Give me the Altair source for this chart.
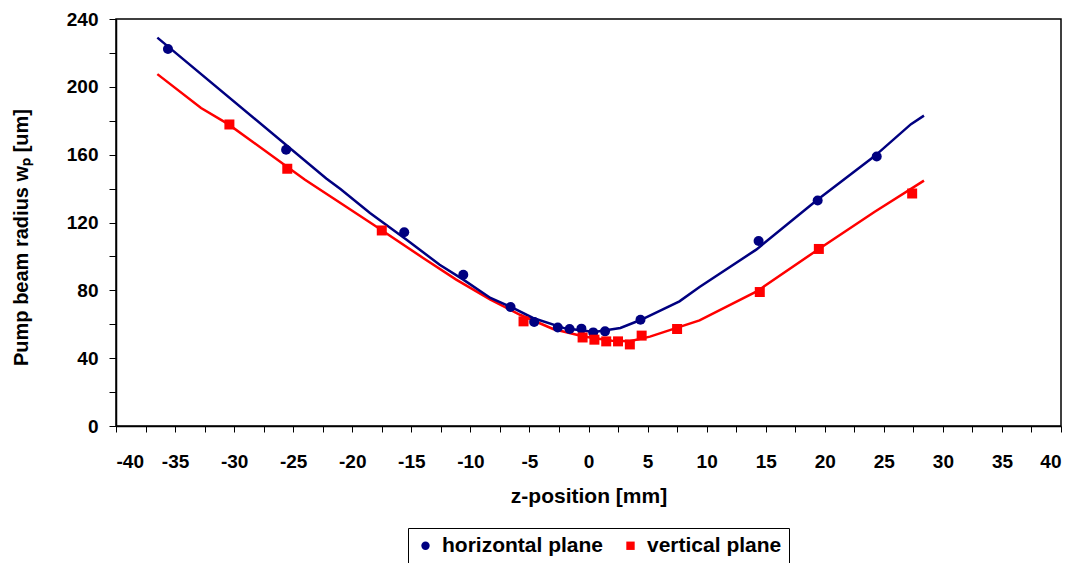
import altair as alt
import pandas as pd

# measured points
h_z = [-35.6, -25.6, -15.6, -10.6, -6.6, -4.6, -2.6, -1.6, -0.6, 0.4, 1.4, 4.4, 14.4, 19.4, 24.4]
h_w = [222.3, 162.9, 114.2, 89.2, 70.2, 61.3, 58.1, 57.2, 57.4, 55.2, 55.8, 62.7, 109.1, 133.0, 158.9]
v_z = [-30.4, -25.5, -17.5, -5.5, -0.5, 0.5, 1.5, 2.5, 3.5, 4.5, 7.5, 14.5, 19.5, 27.4]
v_w = [177.8, 151.7, 115.3, 61.7, 52.2, 50.9, 49.9, 49.9, 48.1, 53.3, 57.2, 79.0, 104.4, 137.1]

# fitted curves
hf_z = [-36.5, -22.2, -21.0, -18.5, -15.4, -12.6, -10.6, -8.3, -6.4, -4.7, -2.0, 0.5, 2.7, 4.4, 7.7, 9.4, 14.2, 19.3, 24.2, 27.3, 28.4]
hf_w = [229.0, 146.0, 139.7, 125.6, 109.8, 95.1, 86.3, 75.5, 69.6, 63.7, 57.6, 55.5, 57.8, 62.5, 73.5, 82.0, 104.0, 133.0, 159.0, 178.0, 183.0]
vf_z = [-36.5, -32.8, -30.5, -24.0, -21.0, -18.2, -14.0, -11.2, -8.3, -5.8, -3.0, -0.4, 2.0, 3.5, 5.2, 9.4, 14.2, 19.5, 24.2, 28.4]
vf_w = [207.5, 187.5, 178.0, 145.2, 131.5, 118.7, 99.1, 86.3, 74.5, 65.6, 57.2, 52.8, 50.3, 50.0, 52.7, 62.3, 79.2, 104.4, 126.2, 144.7]

series = ["horizontal plane", "vertical plane"]
colors = ["#000080", "#FF0000"]
x_ticks = [-40 + 2.5 * i for i in range(33)]
y_ticks = [20 * i for i in range(13)]

pts = pd.DataFrame(
    {"z": h_z + v_z, "w": h_w + v_w,
     "series": [series[0]] * len(h_z) + [series[1]] * len(v_z)}
)
hfit = pd.DataFrame({"z": hf_z, "w": hf_w})
vfit = pd.DataFrame({"z": vf_z, "w": vf_w})

FONT = "Liberation Sans"

xenc = alt.X(
    "z:Q",
    scale=alt.Scale(domain=[-40, 40], nice=False, zero=False),
    axis=alt.Axis(
        values=x_ticks,
        labelExpr="datum.value % 5 == 0 ? toString(datum.value) : ''",
        title="z-position [mm]",
        grid=False,
        tickSize=6,
        labelPadding=20,
        labelFontSize=19,
        titleFontSize=21,
        titlePadding=14,
    ),
)
yenc = alt.Y(
    "w:Q",
    scale=alt.Scale(domain=[0, 240], nice=False),
    axis=alt.Axis(
        values=y_ticks,
        labelExpr="datum.value % 40 == 0 ? toString(datum.value) : ''",
        title="Pump beam radius wₚ [um]",
        grid=False,
        tickSize=7,
        labelPadding=11,
        labelFontSize=19,
        titleFontSize=20,
        titleX=-85,
        titleY=218,
    ),
)

line_h = alt.Chart(hfit).mark_line(color=colors[0], strokeWidth=2.5).encode(x=xenc, y=yenc)
line_v = alt.Chart(vfit).mark_line(color=colors[1], strokeWidth=2.5).encode(x=xenc, y=yenc)

points = alt.Chart(pts).mark_point(filled=True, opacity=1, size=100).encode(
    x=xenc,
    y=yenc,
    color=alt.Color("series:N", scale=alt.Scale(domain=series, range=colors), title=None),
    shape=alt.Shape("series:N", scale=alt.Scale(domain=series, range=["circle", "square"]), title=None),
)

chart = (
    alt.layer(line_v, line_h, points)
    .properties(
        width=945,
        height=407,
        autosize=alt.AutoSizeParams(type="none"),
        padding={"left": 116, "top": 19, "right": 19, "bottom": 137},
    )
    .configure_view(stroke="black", strokeWidth=1.5)
    .configure_axis(
        labelFont=FONT, titleFont=FONT,
        labelFontWeight="bold", titleFontWeight="bold",
        labelColor="black", titleColor="black",
        domainColor="black", tickColor="black", domainWidth=1.5, tickWidth=1,
    )
    .configure_legend(
        orient="none", legendX=292, legendY=509, direction="horizontal",
        labelFont=FONT, labelFontSize=21, labelFontWeight="bold", labelColor="black",
        labelLimit=0,
        strokeColor="black", padding=7, symbolSize=70, columnPadding=16,
        symbolOpacity=1, labelOffset=6,
    )
)

chart.save("out.html", embed_options={"renderer": "svg", "actions": False})
